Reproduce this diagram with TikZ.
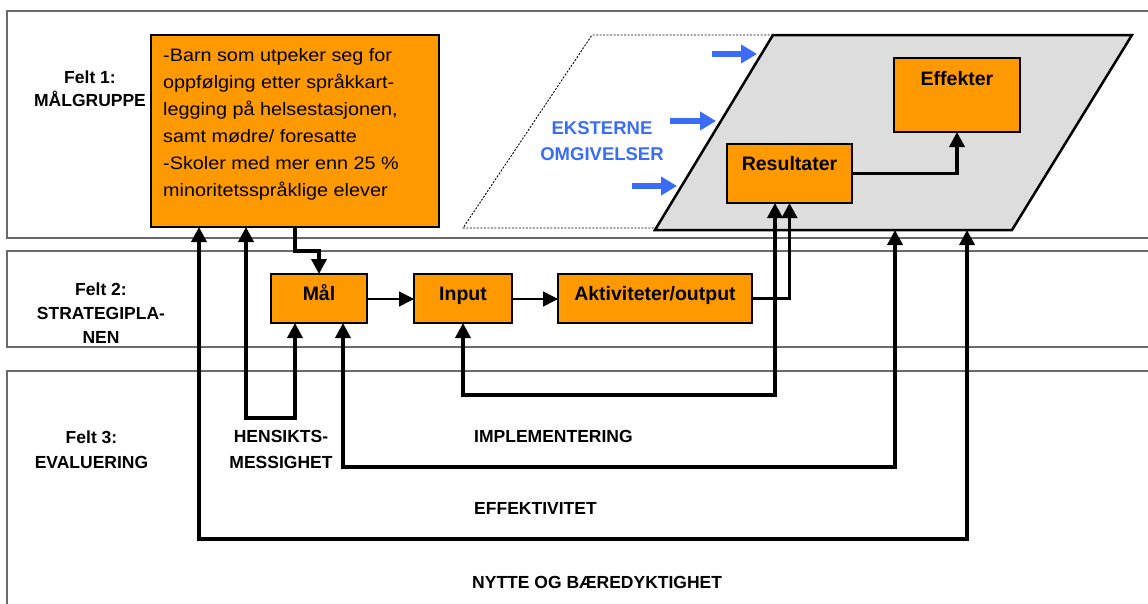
\documentclass[tikz,border=0pt]{standalone}
\usepackage{fontspec}
\setmainfont{Liberation Sans}
\newfontfamily\widefont[FakeStretch=1.1]{Liberation Sans}
\usetikzlibrary{arrows.meta}
\definecolor{orng}{RGB}{255,153,0}
\definecolor{grayfill}{RGB}{221,221,221}
\definecolor{bandline}{RGB}{105,105,105}
\definecolor{extblue}{RGB}{58,108,248}
\begin{document}
\begin{tikzpicture}[x=1pt,y=-1pt,
  >={Triangle[width=15pt,length=15pt]},
  band/.style={draw=bandline, line width=1.3pt},
  obox/.style={draw=black, fill=orng, line width=2.8pt, inner sep=0pt, outer sep=0pt,
    anchor=north west, font=\bfseries\fontsize{19.5}{22}\selectfont},
  rowbox/.style={obox, text height=10pt, text depth=7pt, minimum height=49pt},
  lbl/.style={font=\bfseries\fontsize{17.5}{23}\selectfont, align=center, inner sep=0pt},
  llbl/.style={font=\bfseries\fontsize{17.5}{23}\selectfont, anchor=west, inner sep=0pt},
  conn/.style={line width=3.5pt, draw=black},
  thinconn/.style={line width=1.5pt, draw=black},
  bluearrow/.style={draw=extblue, line width=6.5pt, -{Triangle[width=18pt,length=16pt]}}
]
\useasboundingbox (0,0) rectangle (1148,603);

% bands
\draw[band] (1152,11) -- (7,11) -- (7,238) -- (1152,238);
\draw[band] (1152,251) -- (7,251) -- (7,347) -- (1152,347);
\draw[band] (1152,371) -- (7,371) -- (7,607);

% band labels
\node[lbl] (f1) at (90,88.5) {Felt 1:\\MÅLGRUPPE};
\node[lbl, font=\bfseries\fontsize{17.5}{24}\selectfont] (f2) at (101,313) {Felt 2:\\STRATEGIPLA-\\NEN};
\node[lbl, font=\bfseries\fontsize{17.5}{25}\selectfont] (f3) at (91.5,449.5) {Felt 3:\\EVALUERING};

% external environment
\draw[line width=0.9pt, dash pattern=on 2pt off 1.5pt] (773,35) -- (592,35) -- (463,228) -- (655,228);
\draw[line width=2.5pt, fill=grayfill, line join=miter] (773,35) -- (1132,35) -- (1012,230) -- (655,230) -- cycle;
\coordinate (gbase) at (0,230);
\node[font=\bfseries\fontsize{18.5}{26}\selectfont, text=extblue, align=center, inner sep=0pt] (ext) at (602,141) {EKSTERNE\\OMGIVELSER};
\coordinate (b1s) at (712,54);  \coordinate (b1e) at (757,54);
\coordinate (b2s) at (670,121); \coordinate (b2e) at (716,121);
\coordinate (b3s) at (632,186); \coordinate (b3e) at (677,186);
\draw[bluearrow] (b1s) -- (b1e);
\draw[bluearrow] (b2s) -- (b2e);
\draw[bluearrow] (b3s) -- (b3e);

% target group box
\node[obox, minimum width=288pt, minimum height=192pt] (tg) at (151,35) {};
\node[anchor=north west, align=left, inner sep=0pt, font=\widefont\fontsize{18}{27}\selectfont] (tgtext) at (163,48)
  {-Barn som utpeker seg for\\oppfølging etter språkkart-\\legging på helsestasjonen,\\samt mødre/ foresatte\\-Skoler med mer enn 25 \%\\minoritetsspråklige elever};

% results and effects
\node[obox, minimum width=125pt, minimum height=59pt, text height=10pt, text depth=17pt] (res) at (727,144) {Resultater};
\node[obox, minimum width=126pt, minimum height=74pt, text height=10pt, text depth=30pt] (eff) at (894,58) {Effekter};

% strategy row
\node[rowbox, minimum width=96pt] (mal) at (271,274) {Mål};
\node[rowbox, minimum width=98pt] (inp) at (414,274) {Input};
\node[rowbox, minimum width=194pt] (akt) at (558,274) {Aktiviteter/output};

% evaluation labels
\node[lbl, font=\bfseries\fontsize{17.5}{26}\selectfont] (hens) at (281,449) {HENSIKTS-\\MESSIGHET};
\node[llbl] (impl) at (474,436) {IMPLEMENTERING};
\node[llbl] (effk) at (474,508) {EFFEKTIVITET};
\node[llbl] (nytte) at (472,582) {NYTTE OG BÆREDYKTIGHET};

% loop corner coordinates
\coordinate (c1) at (295,251);
\coordinate (h1) at (246,418);
\coordinate (h2) at (295,418);
\coordinate (i2) at (775,395);
\coordinate (e1) at (343,467);
\coordinate (e2) at (895,467);
\coordinate (n1) at (199,539);
\coordinate (n2) at (967,539);

% connectors
\draw[conn, ->] (tg.south -| c1) -- (c1) -| (mal.north);
\draw[thinconn, ->] (mal.east |- 0,299) -- (inp.west |- 0,299);
\draw[thinconn, ->] (inp.east |- 0,299) -- (akt.west |- 0,299);
\draw[conn, ->] (akt.east) -| (res.south);
\draw[conn, ->] (res.east) -| (eff.south);
\draw[conn, <->] (inp.south) |- (i2) -- (i2 |- res.south);
\draw[conn, <->] (h1 |- tg.south) -- (h1) -- (h2) -- (h2 |- mal.south);
\draw[conn, <->] (e1 |- mal.south) -- (e1) -- (e2) -- (e2 |- gbase);
\draw[conn, <->] (n1 |- tg.south) -- (n1) -- (n2) -- (n2 |- gbase);
\end{tikzpicture}
\end{document}
